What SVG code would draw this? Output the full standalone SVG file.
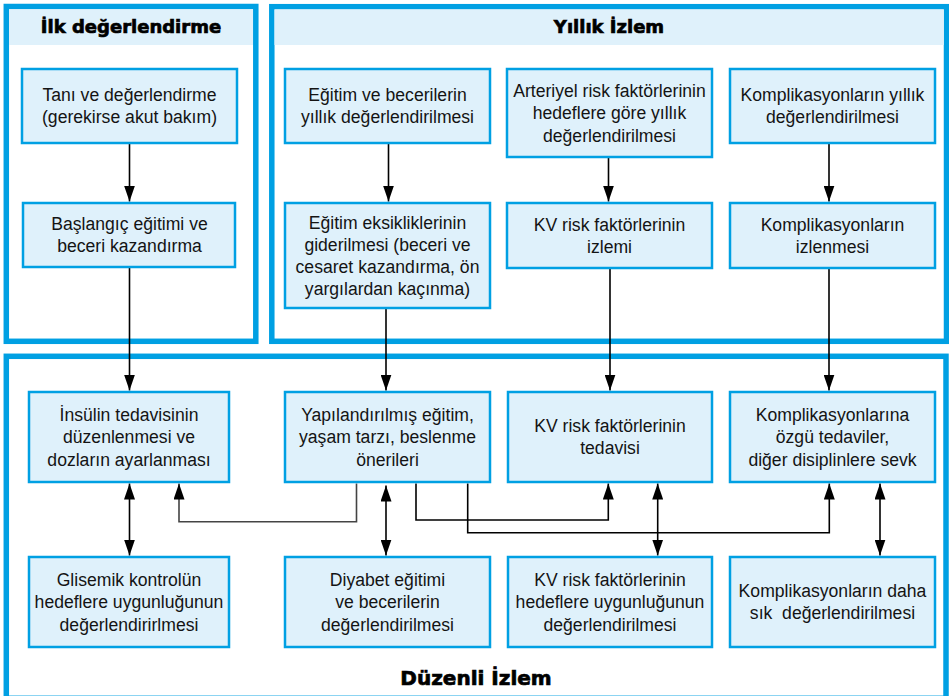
<svg xmlns="http://www.w3.org/2000/svg" width="949" height="696" viewBox="0 0 949 696">
<style>
.panel{fill:#ffffff;stroke:#00a0e3;stroke-width:5.5}
.band{fill:#dff1fb}
.box{fill:#dff1fb;stroke:#00a0e3;stroke-width:2.5}
.t{font-family:"Liberation Sans",Arial,sans-serif;font-size:17.6px;fill:#141414;text-anchor:middle;white-space:pre}
.h{font-family:"DejaVu Sans",sans-serif;font-weight:bold;font-size:18px;fill:#000;stroke:#000;stroke-width:0.7;text-anchor:middle}
.c{fill:none;stroke:#000;stroke-width:1.6}
.g{stroke:#444}
</style>
<defs>
<marker id="ah" viewBox="0 0 16 11" refX="16" refY="5.5" markerWidth="16" markerHeight="11" markerUnits="userSpaceOnUse" orient="auto-start-reverse">
<path d="M0,0 L16,5.5 L0,11 z" fill="#000"/>
</marker>
</defs>
<g id="panel-ilk">
<rect class="panel" x="6.3" y="6.5" width="249.5" height="334.8"/>
<rect class="band" x="9" y="9.3" width="244" height="35.7"/>
<text class="h" x="131" y="33.3">İlk değerlendirme</text>
</g>
<g id="panel-yillik">
<rect class="panel" x="271.8" y="6.7" width="674.7" height="334.6"/>
<rect class="band" x="274.5" y="9.4" width="669.3" height="35.6"/>
<text class="h" x="609" y="33.3">Yıllık İzlem</text>
</g>
<g id="panel-duzenli">
<rect class="panel" x="6.3" y="356.3" width="939.7" height="342"/>
<text class="h" x="476" y="685" style="font-size:20px">Düzenli İzlem</text>
</g>
<g id="connectors">
<line class="c" x1="129.5" y1="143" x2="129.5" y2="201.5" marker-end="url(#ah)"/>
<line class="c" x1="129.5" y1="267" x2="129.5" y2="390.5" marker-end="url(#ah)"/>
<line class="c" x1="388.5" y1="143" x2="388.5" y2="201.5" marker-end="url(#ah)"/>
<line class="c" x1="608.5" y1="157" x2="608.5" y2="201.5" marker-end="url(#ah)"/>
<line class="c" x1="829" y1="143" x2="829" y2="201.5" marker-end="url(#ah)"/>
<line class="c" x1="386" y1="308" x2="386" y2="390.5" marker-end="url(#ah)"/>
<line class="c" x1="610" y1="268" x2="610" y2="390.5" marker-end="url(#ah)"/>
<line class="c" x1="829" y1="268" x2="829" y2="390.5" marker-end="url(#ah)"/>
<line class="c" x1="129.5" y1="483.5" x2="129.5" y2="555.5" marker-start="url(#ah)" marker-end="url(#ah)"/>
<polyline class="c g" points="356.5,483.5 356.5,521.7 179,521.7 179,483.5" marker-end="url(#ah)"/>
<line class="c" x1="386" y1="485.5" x2="386" y2="555.5" marker-start="url(#ah)" marker-end="url(#ah)"/>
<polyline class="c" points="416,483.5 416,520 608.3,520 608.3,483.5" marker-end="url(#ah)"/>
<polyline class="c" points="467.7,483.5 467.7,532.7 829.3,532.7 829.3,483.5" marker-end="url(#ah)"/>
<line class="c" x1="657.7" y1="483.5" x2="657.7" y2="555.5" marker-start="url(#ah)" marker-end="url(#ah)"/>
<line class="c" x1="880" y1="483.5" x2="880" y2="555.5" marker-start="url(#ah)" marker-end="url(#ah)"/>
</g>
<g id="n-tani">
<rect class="box" x="22" y="69" width="215" height="74"/>
<text class="t" x="129.5" y="101.2">Tanı ve değerlendirme<tspan x="129.5" dy="22.2">(gerekirse akut bakım)</tspan></text>
</g>
<g id="n-baslangic">
<rect class="box" x="23" y="203" width="212" height="64"/>
<text class="t" x="129.5" y="230.2">Başlangıç eğitimi ve<tspan x="129.5" dy="22.2">beceri kazandırma</tspan></text>
</g>
<g id="n-egitim-yillik">
<rect class="box" x="285" y="69" width="205" height="74"/>
<text class="t" x="387.5" y="101.2">Eğitim ve becerilerin<tspan x="387.5" dy="22.2">yıllık değerlendirilmesi</tspan></text>
</g>
<g id="n-arteriyel">
<rect class="box" x="507" y="69" width="205" height="88"/>
<text class="t" x="609.5" y="97.1">Arteriyel risk faktörlerinin<tspan x="609.5" dy="22.2">hedeflere göre yıllık</tspan><tspan x="609.5" dy="22.2">değerlendirilmesi</tspan></text>
</g>
<g id="n-komp-yillik">
<rect class="box" x="730" y="69" width="205" height="74"/>
<text class="t" x="832.5" y="101.2">Komplikasyonların yıllık<tspan x="832.5" dy="22.2">değerlendirilmesi</tspan></text>
</g>
<g id="n-egitim-eksik">
<rect class="box" x="285" y="203" width="205" height="105"/>
<text class="t" x="387.5" y="228.5">Eğitim eksikliklerinin<tspan x="387.5" dy="22.2">giderilmesi (beceri ve</tspan><tspan x="387.5" dy="22.2">cesaret kazandırma, ön</tspan><tspan x="387.5" dy="22.2">yargılardan kaçınma)</tspan></text>
</g>
<g id="n-kv-izlem">
<rect class="box" x="507" y="203" width="205" height="65"/>
<text class="t" x="609.5" y="230.7">KV risk faktörlerinin<tspan x="609.5" dy="22.2">izlemi</tspan></text>
</g>
<g id="n-komp-izlenme">
<rect class="box" x="730" y="203" width="205" height="65"/>
<text class="t" x="832.5" y="230.7">Komplikasyonların<tspan x="832.5" dy="22.2">izlenmesi</tspan></text>
</g>
<g id="n-insulin">
<rect class="box" x="29" y="392" width="200" height="90"/>
<text class="t" x="129" y="421.1">İnsülin tedavisinin<tspan x="129" dy="22.2">düzenlenmesi ve</tspan><tspan x="129" dy="22.2">dozların ayarlanması</tspan></text>
</g>
<g id="n-yapilandirilmis">
<rect class="box" x="285" y="392" width="205" height="90"/>
<text class="t" x="387.5" y="421.1">Yapılandırılmış eğitim,<tspan x="387.5" dy="22.2">yaşam tarzı, beslenme</tspan><tspan x="387.5" dy="22.2">önerileri</tspan></text>
</g>
<g id="n-kv-tedavi">
<rect class="box" x="508" y="392" width="204" height="90"/>
<text class="t" x="610" y="432.2">KV risk faktörlerinin<tspan x="610" dy="22.2">tedavisi</tspan></text>
</g>
<g id="n-komp-tedavi">
<rect class="box" x="730" y="392" width="205" height="90"/>
<text class="t" x="832.5" y="421.1">Komplikasyonlarına<tspan x="832.5" dy="22.2">özgü tedaviler,</tspan><tspan x="832.5" dy="22.2">diğer disiplinlere sevk</tspan></text>
</g>
<g id="n-glisemik">
<rect class="box" x="29" y="557" width="200" height="90"/>
<text class="t" x="129" y="586.1">Glisemik kontrolün<tspan x="129" dy="22.2">hedeflere uygunluğunun</tspan><tspan x="129" dy="22.2">değerlendirirlmesi</tspan></text>
</g>
<g id="n-diyabet">
<rect class="box" x="285" y="557" width="205" height="90"/>
<text class="t" x="387.5" y="586.1">Diyabet eğitimi<tspan x="387.5" dy="22.2">ve becerilerin</tspan><tspan x="387.5" dy="22.2">değerlendirilmesi</tspan></text>
</g>
<g id="n-kv-hedef">
<rect class="box" x="508" y="557" width="204" height="90"/>
<text class="t" x="610" y="586.1">KV risk faktörlerinin<tspan x="610" dy="22.2">hedeflere uygunluğunun</tspan><tspan x="610" dy="22.2">değerlendirilmesi</tspan></text>
</g>
<g id="n-komp-sik">
<rect class="box" x="730" y="557" width="205" height="90"/>
<text class="t" x="832.5" y="597.2">Komplikasyonların daha<tspan x="832.5" dy="22.2">sık  değerlendirilmesi</tspan></text>
</g>
</svg>
